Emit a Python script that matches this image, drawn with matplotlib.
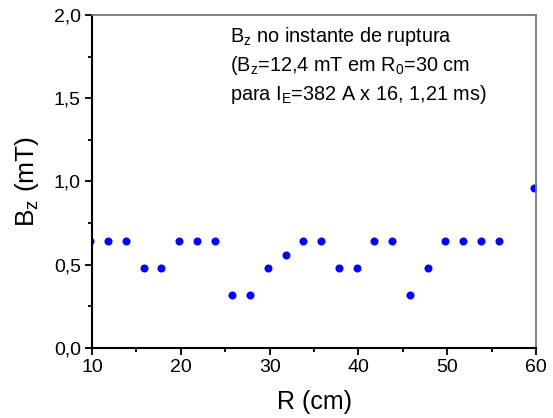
import numpy as np
import matplotlib
matplotlib.use('Agg')
from matplotlib import pyplot as plt
from matplotlib.ticker import MultipleLocator, FuncFormatter

plt.rcParams['font.family'] = ['Liberation Sans', 'DejaVu Sans']
plt.rcParams['mathtext.fontset'] = 'custom'
plt.rcParams['mathtext.rm'] = 'Liberation Sans'
plt.rcParams['mathtext.it'] = 'Liberation Sans'
plt.rcParams['mathtext.default'] = 'rm'

# radial position (cm) and Bz (mT)
r_cm = [9.8, 11.8, 13.8, 15.8, 17.8, 19.8, 21.8, 23.8, 25.8, 27.8, 29.8, 31.8,
        33.8, 35.8, 37.8, 39.8, 41.8, 43.8, 45.8, 47.8, 49.8, 51.8, 53.8, 55.8,
        59.8]
bz_mT = [0.64, 0.64, 0.64, 0.48, 0.48, 0.64, 0.64, 0.64, 0.32, 0.32, 0.48, 0.56,
         0.64, 0.64, 0.48, 0.48, 0.64, 0.64, 0.32, 0.48, 0.64, 0.64, 0.64, 0.64,
         0.96]

note_lines = [r'B$_z$ no instante de ruptura',
              r'(B$_z$=12,4 mT em R$_0$=30 cm',
              r'para I$_E$=382 A x 16, 1,21 ms)']

fig = plt.figure(figsize=(5.53, 4.18), dpi=100)
ax = fig.add_axes([0.1664, 0.1675, 0.8029, 0.7966])

ax.plot(r_cm, bz_mT, 'o', color='#0000ff', markersize=5.8, markeredgewidth=0)

ax.set_xlim(10, 60)
ax.set_ylim(0, 2.0)
ax.xaxis.set_major_locator(MultipleLocator(10))
ax.xaxis.set_minor_locator(MultipleLocator(5))
ax.yaxis.set_major_locator(MultipleLocator(0.5))
ax.yaxis.set_minor_locator(MultipleLocator(0.25))
ax.yaxis.set_major_formatter(FuncFormatter(lambda v, p: f'{v:.1f}'.replace('.', ',')))
ax.xaxis.set_major_formatter(FuncFormatter(lambda v, p: f'{v:.0f}'))

ax.tick_params(which='both', direction='out', top=False, right=False,
               width=1.3, labelsize=14, colors='black')
ax.tick_params(which='major', length=5, pad=3)
ax.tick_params(which='minor', length=3)

for s in ['left', 'bottom']:
    ax.spines[s].set_linewidth(1.5)
    ax.spines[s].set_color('black')
for s in ['top', 'right']:
    ax.spines[s].set_linewidth(1.3)
    ax.spines[s].set_color('#777777')

ax.set_xlabel('R (cm)', fontsize=18, labelpad=10)
ax.set_ylabel(r'B$_z$ (mT)', fontsize=19, labelpad=9)

for i, line in enumerate(note_lines):
    ax.text(0.31, 0.97 - i * 0.087, line, transform=ax.transAxes,
            fontsize=14.3, va='top', ha='left')

fig.savefig('out.png', dpi=100)
